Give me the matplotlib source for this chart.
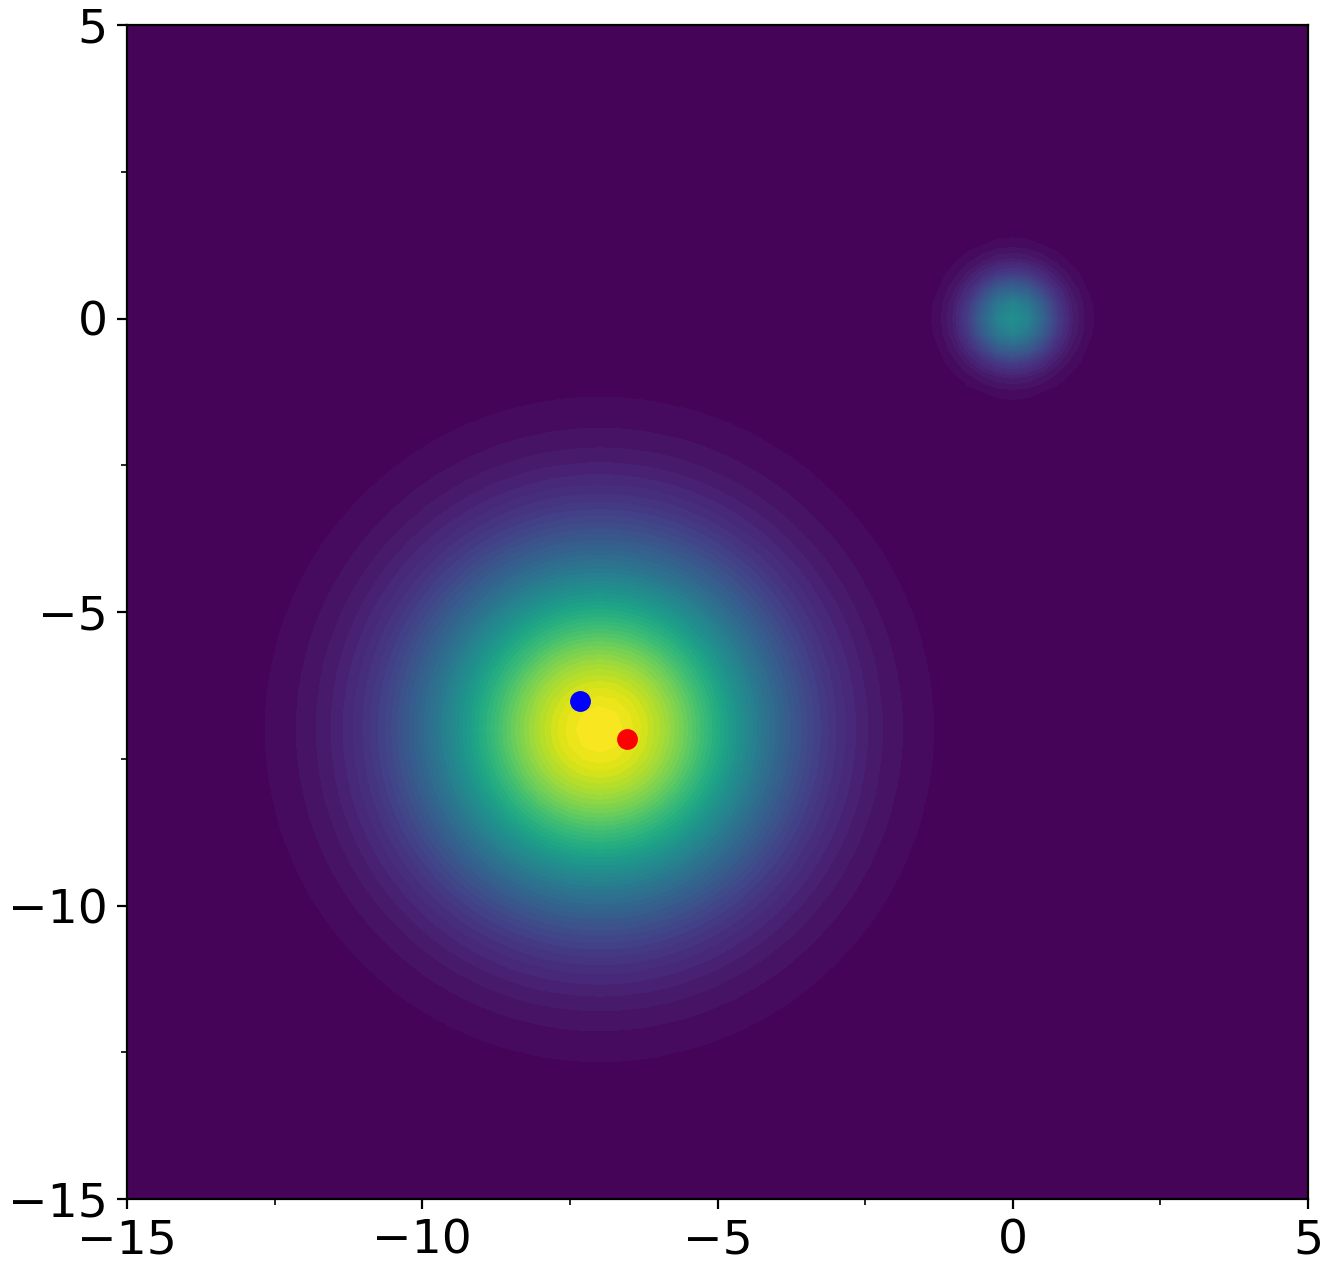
import numpy as np
import matplotlib
matplotlib.use("Agg")
import matplotlib.pyplot as plt
from matplotlib.ticker import MultipleLocator

# gaussian bumps: centre x, centre y, sigma, height
bump_x = [-7.0, 0.0]
bump_y = [-7.0, 0.0]
bump_sigma = [2.02, 0.53]
bump_height = [1.0, 0.5]

# the two marked points
blue_pt = [-7.33, -6.52]
red_pt = [-6.53, -7.16]

xs = np.linspace(-15, 5, 81)
ys = np.linspace(-15, 5, 81)
X, Y = np.meshgrid(xs, ys)
Z = np.zeros_like(X)
for cx, cy, s, h in zip(bump_x, bump_y, bump_sigma, bump_height):
    Z += h * np.exp(-((X - cx)**2 + (Y - cy)**2) / (2 * s**2))

fig = plt.figure(figsize=(1329/200, 1282/200), dpi=200)
ax = fig.add_axes([127/1329, 83/1282, (1308-127)/1329, (1199-25)/1282])

ax.contourf(X, Y, Z, levels=50, cmap='viridis')
ax.plot(blue_pt[0], blue_pt[1], 'o', color='blue', ms=6.5)
ax.plot(red_pt[0], red_pt[1], 'o', color='red', ms=6.5)

ax.set_xlim(-15, 5)
ax.set_ylim(-15, 5)
ax.xaxis.set_major_locator(MultipleLocator(5))
ax.yaxis.set_major_locator(MultipleLocator(5))
ax.xaxis.set_minor_locator(MultipleLocator(2.5))
ax.yaxis.set_minor_locator(MultipleLocator(2.5))
ax.tick_params(labelsize=17)

fig.savefig("out.png", dpi=200)
